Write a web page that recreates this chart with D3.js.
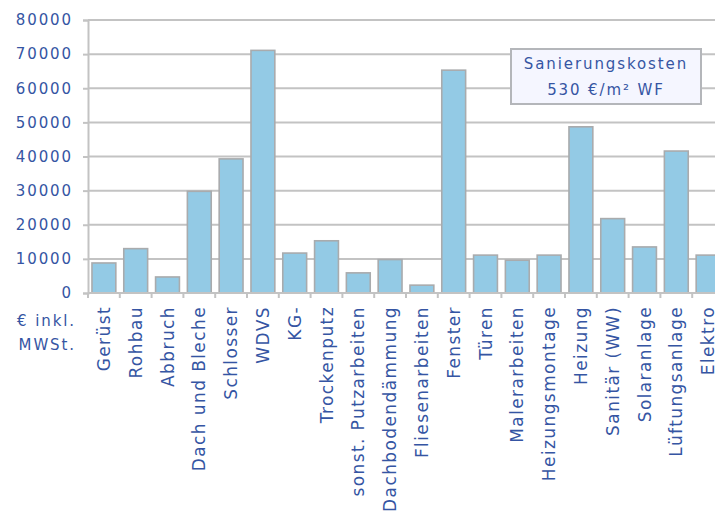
<!DOCTYPE html>
<html>
<head>
<meta charset="utf-8">
<script src="https://cdn.jsdelivr.net/npm/d3@7"></script>
<style>
  html, body { margin: 0; padding: 0; background: #fff; }
  svg { display: block; }
  text { font-family: "DejaVu Sans", Verdana, sans-serif; fill: #3555a3; }
</style>
</head>
<body>
<svg id="chart" width="715" height="516"></svg>
<script>
const categories = ["Gerüst", "Rohbau", "Abbruch", "Dach und Bleche", "Schlosser", "WDVS", "KG-", "Trockenputz", "sonst. Putzarbeiten", "Dachbodendämmung", "Fliesenarbeiten", "Fenster", "Türen", "Malerarbeiten", "Heizungsmontage", "Heizung", "Sanitär (WW)", "Solaranlage", "Lüftungsanlage", "Elektro"];
const values = [8800, 13000, 4700, 29800, 39300, 71100, 11700, 15300, 5900, 9800, 2300, 65300, 11100, 9600, 11100, 48700, 21800, 13500, 41600, 11100];
const yTicks = [0, 10000, 20000, 30000, 40000, 50000, 60000, 70000, 80000];
const unitLabel = ["€ inkl.", "MWSt."];
const noteLines = ["Sanierungskosten", "530 €/m² WF"];

const svg = d3.select("#chart");
const plotLeft = 88, plotTop = 20, plotBottom = 293, step = 31.8;
const plotRight = plotLeft + step * categories.length;

const x = d3.scaleBand().domain(categories).range([plotLeft, plotRight]).paddingInner(0.25).paddingOuter(0.125);
const y = d3.scaleLinear().domain([0, 80000]).range([plotBottom, plotTop]);

const gridColor = "#c3c3c3";

// gridlines
svg.append("g").selectAll("line").data(yTicks.slice(1)).join("line")
  .attr("x1", plotLeft).attr("x2", 715)
  .attr("y1", d => y(d)).attr("y2", d => y(d))
  .attr("stroke", gridColor).attr("stroke-width", 2);

// y axis
const yAxis = svg.append("g").attr("transform", `translate(${plotLeft},0)`)
  .call(d3.axisLeft(y).tickValues(yTicks).tickSize(5).tickPadding(10).tickFormat(d3.format("d")));
yAxis.select(".domain").attr("stroke", gridColor).attr("stroke-width", 2);
yAxis.selectAll(".tick line").attr("stroke", gridColor).attr("stroke-width", 2);
yAxis.selectAll(".tick text").style("font-size", "15px").style("letter-spacing", "1.9px").attr("fill", "#3555a3");

// bars
svg.append("g").selectAll("rect").data(categories).join("rect")
  .attr("x", d => x(d))
  .attr("y", (d, i) => y(values[i]))
  .attr("width", x.bandwidth())
  .attr("height", (d, i) => y(0) - y(values[i]))
  .attr("fill", "#93cae5")
  .attr("stroke", "#a9abad")
  .attr("stroke-width", 1.6);

// x axis line + boundary ticks
svg.append("line").attr("x1", plotLeft).attr("x2", 715).attr("y1", plotBottom).attr("y2", plotBottom)
  .attr("stroke", gridColor).attr("stroke-width", 2);
const boundaries = d3.range(categories.length + 1);
const firstEdge = x(categories[0]) - x.step() * x.paddingOuter();
svg.append("g").selectAll("line").data(boundaries).join("line")
  .attr("x1", i => firstEdge + i * x.step())
  .attr("x2", i => firstEdge + i * x.step())
  .attr("y1", plotBottom).attr("y2", plotBottom + 5)
  .attr("stroke", gridColor).attr("stroke-width", 2);

// category labels (rotated)
svg.append("g").selectAll("text").data(categories).join("text")
  .attr("transform", d => `translate(${x(d) + x.bandwidth() / 2},306) rotate(-90)`)
  .attr("text-anchor", "end")
  .attr("dy", "0.36em")
  .style("font-size", "17px")
  .style("letter-spacing", "1.4px")
  .text(d => d);

// unit label
svg.append("g").selectAll("text").data(unitLabel).join("text")
  .attr("x", 76).attr("y", (d, i) => 326 + i * 23.5)
  .attr("text-anchor", "end")
  .style("font-size", "15px").style("letter-spacing", "1.9px")
  .text(d => d);

// annotation box
const note = svg.append("g");
note.append("rect").attr("x", 511).attr("y", 49).attr("width", 190).attr("height", 55)
  .attr("fill", "#f5f6ff").attr("stroke", "#b4b6ba").attr("stroke-width", 2);
note.selectAll("text").data(noteLines).join("text")
  .attr("x", 606).attr("y", (d, i) => 69 + i * 25.5)
  .attr("text-anchor", "middle")
  .style("font-size", "15px").style("letter-spacing", "1.9px")
  .text(d => d);
</script>
</body>
</html>
